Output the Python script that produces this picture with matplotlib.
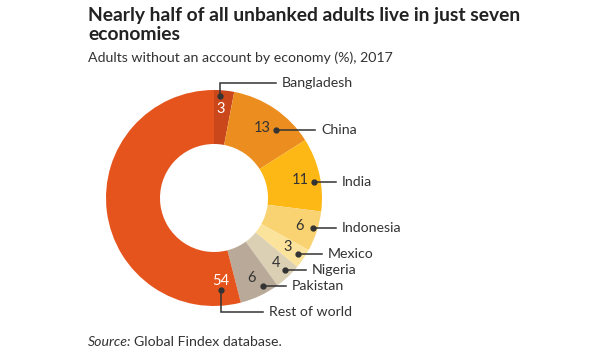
import matplotlib.pyplot as plt

plt.rcParams['font.family'] = ['Lato', 'DejaVu Sans']

# data
economies = ["Bangladesh", "China", "India", "Indonesia", "Mexico",
             "Nigeria", "Pakistan", "Rest of world"]
shares = [3, 13, 11, 6, 3, 4, 6, 54]
colors = ["#C9471B", "#EC8E1F", "#FDB815", "#F9D271", "#FCE39B",
          "#DBCFB4", "#B8A999", "#E6541E"]
value_colors = ["white", "#333333", "#333333", "#333333", "#333333",
                "#333333", "#333333", "white"]

# label layout, pixel coords measured from the top-left corner
value_pos = [(220.5, 109), (262, 128.5), (300, 180.5), (300, 226.5),
             (287.5, 247), (276, 263), (252, 278), (221, 281)]
dot_pos = [(220, 96), (276, 129.5), (314, 181.5), (313, 227.5),
           (298, 254), (285, 270), (263, 286), (220.5, 290)]
name_pos = [(282, 83), (321, 129.5), (341.5, 181.5), (341.5, 227.5),
            (328, 254), (312, 270), (291.5, 286), (269, 312)]

W, H = 600, 360
center = (214, H - 198)
outer_r = 108
inner_r = 54
ink = "#333333"
fs = 10.2


def Y(y):
    return H - y


fig = plt.figure(figsize=(6, 3.6), dpi=100)
ax = fig.add_axes([0, 0, 1, 1])

ax.pie(shares, colors=colors, startangle=90, counterclock=False,
       center=center, radius=outer_r, frame=True,
       wedgeprops=dict(width=outer_r - inner_r, linewidth=0))
ax.set_xlim(0, W)
ax.set_ylim(0, H)
ax.set_aspect('equal')
ax.axis('off')

for i, name in enumerate(economies):
    vx, vy = value_pos[i]
    dx, dy = dot_pos[i]
    nx, ny = name_pos[i]
    ax.text(vx, Y(vy), str(shares[i]), ha='center', va='center',
            fontsize=10.5, color=value_colors[i])
    ax.plot([dx, dx, nx - 6], [Y(dy), Y(ny), Y(ny)], color=ink, lw=1.1,
            solid_joinstyle='miter')
    ax.plot(dx, Y(dy), 'o', ms=3.5, color=ink)
    ax.text(nx, Y(ny), name, ha='left', va='center', fontsize=fs, color=ink)

title_lines = ["Nearly half of all unbanked adults live in just seven",
               "economies"]
for line, base in zip(title_lines, [21, 39.5]):
    fig.text(88 / W, 1 - base / H, line, ha='left', va='baseline',
             fontsize=13.9, fontweight='bold', color="#222222")
fig.text(88 / W, 1 - 62.5 / H, "Adults without an account by economy (%), 2017",
         ha='left', va='baseline', fontsize=fs, color=ink)
src = fig.text(88 / W, 1 - 346 / H, "Source:", ha='left', va='baseline',
               fontsize=fs, color=ink, style='italic')
fig.canvas.draw()
bb = src.get_window_extent()
fig.text((bb.x1 + 3) / W, 1 - 346 / H, "Global Findex database.", ha='left',
         va='baseline', fontsize=fs, color=ink)

fig.savefig("out.png", dpi=100)
